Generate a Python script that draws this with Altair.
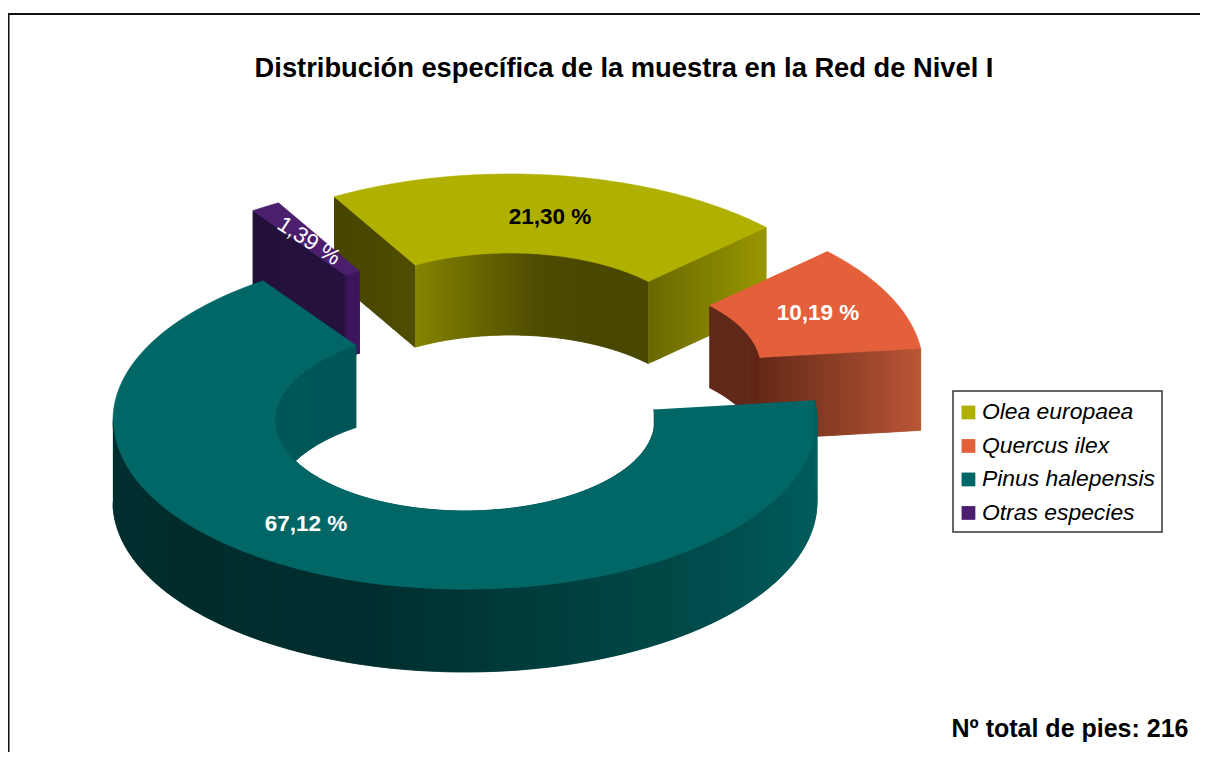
import numpy as np
import pandas as pd
import altair as alt

species = ["Olea europaea", "Quercus ilex", "Pinus halepensis", "Otras especies"]
percent = [21.30, 10.19, 67.12, 1.39]
labels = ["21,30 %", "10,19 %", "67,12 %", "1,39 %"]
top_colors = ["#b0b000", "#e4603a", "#006666", "#4c1f6e"]
# explode shift of each slice, in screen pixels
shift_x = [45, 106, 0, -10.5]
shift_y = [-76, -52, 0, -70]
label_x = [550, 818, 306, 309]
label_y = [217, 313, 524, 241]
label_color = ["#000000", "#ffffff", "#ffffff", "#ffffff"]
label_angle = [0, 0, 0, 33]
title_text = "Distribución específica de la muestra en la Red de Nivel I"
note_text = "Nº total de pies: 216"

CX, CY, A, B, a, b, H = 465, 420, 352, 170, 190, 91, 82
START = 120.0
WIDTH, HEIGHT = 1192, 744

# wall shading stops (position 0..1 along the wall -> colour)
cut_left = {"Olea europaea": ["#474500", "#504e00"], "Otras especies": ["#23103a", "#27123f"]}
inner_stops = {"Olea europaea": ["#868500", "#6a6800", "#4e4c00", "#4a4800", "#4a4800"],
               "Otras especies": ["#3a1858", "#401a62", "#401a62", "#401a62", "#401a62"],
               "Quercus ilex": ["#62291a", "#62291a", "#62291a", "#62291a", "#652a18"],
               "Pinus halepensis": ["#005252", "#005656", "#005a5a", "#005858", "#005656"]}
cut_right = {"Olea europaea": ["#6a6900", "#989600"], "Quercus ilex": ["#652a18", "#b85535"]}
outer_stops = ["#003030", "#002c2c", "#002e2e", "#004242", "#005454", "#006262"]


def mix(stops, u):
    u = min(max(u, 0), 1) * (len(stops) - 1)
    i = min(int(u), len(stops) - 2)
    f = u - i
    c0 = [int(stops[i][k:k + 2], 16) for k in (1, 3, 5)]
    c1 = [int(stops[i + 1][k:k + 2], 16) for k in (1, 3, 5)]
    return "#%02x%02x%02x" % tuple(round(p + (q - p) * f) for p, q in zip(c0, c1))


def pt(t, ra, rb, sx=0, sy=0):
    r = np.radians(t)
    return CX + ra * np.cos(r) + sx, CY - rb * np.sin(r) + sy


rows_back, rows_top, rows_front = [], [], []
gid = [0]


def poly(rows, pts, color, sp=None):
    gid[0] += 1
    for i, (x, y) in enumerate(pts):
        rows.append({"x": x, "y": y, "i": i, "g": gid[0], "c": color, "sp": sp})


def band(rows, pts, stops):
    """A wall hanging below pts; each strip runs under the next, so no seams show."""
    n = len(pts) - 1
    for k in range(n):
        seg = pts[k:min(k + 3, n + 1)]
        low = [(x, y + H) for x, y in seg[::-1]]
        poly(rows, seg + low, mix(stops, k / max(n - 1, 1)))


def segment(p, q, n=40):
    return [(p[0] + (q[0] - p[0]) * k / n, p[1] + (q[1] - p[1]) * k / n) for k in range(n + 1)]


spans = []
t0 = START
for p in percent:
    spans.append((t0, t0 - p * 3.6))
    t0 -= p * 3.6

for idx in [0, 3, 1, 2]:
    sp, (t_a, t_b) = species[idx], spans[idx]
    sx, sy = shift_x[idx], shift_y[idx]
    ts = np.linspace(t_a, t_b, 121)
    outer = [pt(t, A, B, sx, sy) for t in ts]
    inner = [pt(t, a, b, sx, sy) for t in ts]
    poly(rows_top, outer + inner[::-1], top_colors[idx], sp)
    if sp in cut_left:
        band(rows_back, segment(outer[0], inner[0]), cut_left[sp])
    band(rows_back, inner, inner_stops[sp])
    if sp in cut_right:
        band(rows_back, segment(inner[-1], outer[-1]), cut_right[sp])

# outer wall of the main slice, front half only
ts = np.linspace(180, 360 + spans[2][0], 181)
band(rows_front, [pt(t, A, B) for t in ts], outer_stops)

X = alt.X("x:Q", axis=None, scale=alt.Scale(domain=[8, 8 + WIDTH], nice=False, zero=False))
Y = alt.Y("y:Q", axis=None, scale=alt.Scale(domain=[8 + HEIGHT, 8], nice=False, zero=False))


def walls(rows):
    return alt.Chart(pd.DataFrame(rows)).mark_line(strokeWidth=0.5, interpolate="linear").encode(
        x=X, y=Y, order="i:Q", detail="g:N",
        fill=alt.Fill("c:N", scale=None),
        stroke=alt.Stroke("c:N", scale=None),
    )


scale_sp = alt.Scale(domain=species, range=top_colors)
tops = alt.Chart(pd.DataFrame(rows_top)).mark_line(strokeWidth=0.6, interpolate="linear").encode(
    x=X, y=Y, order="i:Q", detail="g:N",
    stroke=alt.Stroke("sp:N", scale=scale_sp, legend=None),
    fill=alt.Fill("sp:N", scale=scale_sp, title=None, legend=alt.Legend(
        orient="none", legendX=949, legendY=393, direction="vertical", padding=0,
        symbolType="square", symbolSize=190, symbolStrokeWidth=0, symbolOpacity=1,
        labelFontStyle="italic", labelFont="Liberation Sans", labelFontSize=22.9,
        labelColor="#000000", labelLimit=260, labelOffset=2,
        rowPadding=9.5, values=species)),
)

legend_box = alt.Chart(pd.DataFrame({"x": [953], "x2": [1162], "y": [391], "y2": [532]})).mark_rect(
    fill="#ffffff", stroke="#333333", strokeWidth=1.5
).encode(x=X, x2="x2:Q", y=Y, y2="y2:Q")

lab = pd.DataFrame({"t": labels, "x": label_x, "y": label_y, "c": label_color, "a": label_angle})
texts = []
for _, r in lab.iterrows():
    texts.append(alt.Chart(pd.DataFrame([r.to_dict()])).mark_text(
        font="Liberation Sans", fontWeight="bold" if r["a"] == 0 else "normal",
        fontSize=22.5, angle=int(r["a"]), align="center", baseline="middle",
    ).encode(x=X, y=Y, text="t:N", color=alt.Color("c:N", scale=None)))

title = alt.Chart(pd.DataFrame({"t": [title_text], "x": [624], "y": [69]})).mark_text(
    font="Liberation Sans", fontWeight="bold", fontSize=27.3, align="center", baseline="middle", color="#000000"
).encode(x=X, y=Y, text="t:N")
note = alt.Chart(pd.DataFrame({"t": [note_text], "x": [1070], "y": [729]})).mark_text(
    font="Liberation Sans", fontWeight="bold", fontSize=25, align="center", baseline="middle", color="#000000"
).encode(x=X, y=Y, text="t:N")

frame_top = alt.Chart(pd.DataFrame({"a": [0]})).mark_rule(color="#111111", strokeWidth=2).encode(
    x=alt.value(0), x2=alt.value(WIDTH), y=alt.value(6))
frame_left = alt.Chart(pd.DataFrame({"a": [0]})).mark_rule(color="#111111", strokeWidth=3).encode(
    x=alt.value(0), y=alt.value(6), y2=alt.value(HEIGHT))

chart = alt.layer(frame_top, frame_left, legend_box, walls(rows_back), tops, walls(rows_front), title, note, *texts).resolve_scale(
    fill="independent", stroke="independent", color="independent"
).properties(width=WIDTH, height=HEIGHT, padding=0, background="#ffffff", autosize=alt.AutoSizeParams(type="none")
).configure_view(stroke=None)

chart.save("out.html", embed_options={"renderer": "svg", "actions": False})
